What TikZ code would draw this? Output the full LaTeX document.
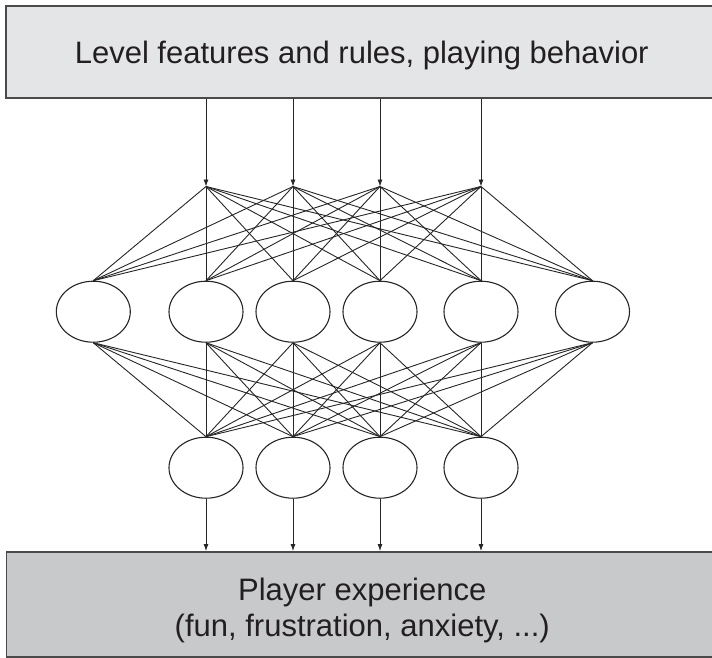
\documentclass[tikz,border=0pt]{standalone}
\usepackage{fontspec}
\setmainfont{Liberation Sans}
\usetikzlibrary{arrows.meta,shapes.geometric}
\definecolor{topgray}{HTML}{E4E5E7}
\definecolor{botgray}{HTML}{C8C9CB}
\definecolor{linecol}{HTML}{262626}
\definecolor{framecol}{HTML}{4A4A4A}
\definecolor{txtcol}{HTML}{231F20}
\begin{document}
\begin{tikzpicture}[x=1pt,y=-1pt,
  neuron/.style={ellipse,draw=linecol,line width=1.1pt,fill=white,minimum width=74pt,minimum height=61pt,inner sep=0pt},
  link/.style={draw=linecol,line width=0.9pt},
  feed/.style={draw=linecol,line width=0.8pt,-{Latex[length=7pt,width=5pt]}},
  box/.style={draw=framecol,line width=1.5pt,inner sep=0pt,anchor=north west,minimum width=712pt},
  boxtext/.style={font=\fontsize{31}{36}\selectfont,text=txtcol,align=center}]
\useasboundingbox (0,0) rectangle (712,657);
\node[box,fill=topgray,minimum height=92pt,
  label={[boxtext,yshift=-4pt]center:Level features and rules, playing behavior}] (top) at (5,5) {};
\node[box,fill=botgray,minimum height=105pt,
  label={[boxtext,yshift=-6pt]center:Player experience\\(fun, frustration, anxiety, ...)}] (bottom) at (5.5,551) {};
% input points
\coordinate (i1) at (206,186.5);
\coordinate (i2) at (293,186.5);
\coordinate (i3) at (380,186.5);
\coordinate (i4) at (481,186.5);
% hidden layer
\node[neuron] (h1) at (93.3,311.7) {};
\node[neuron] (h2) at (206,311.7) {};
\node[neuron] (h3) at (293,311.7) {};
\node[neuron] (h4) at (380,311.7) {};
\node[neuron] (h5) at (481,311.7) {};
\node[neuron] (h6) at (592.5,311.7) {};
% output layer
\node[neuron] (o1) at (206,467.7) {};
\node[neuron] (o2) at (293,467.7) {};
\node[neuron] (o3) at (380,467.7) {};
\node[neuron] (o4) at (481,467.7) {};
\foreach \i in {1,...,4} {
  \draw[feed] (top.south -| i\i) -- (i\i);
  \foreach \h in {1,...,6} \draw[link] (i\i) -- (h\h.north);
}
\foreach \h in {1,...,6} {
  \foreach \o in {1,...,4} \draw[link] (h\h.south) -- (o\o.north);
}
\foreach \o in {1,...,4} \draw[feed] (o\o.south) -- (bottom.north -| o\o);
\end{tikzpicture}
\end{document}
